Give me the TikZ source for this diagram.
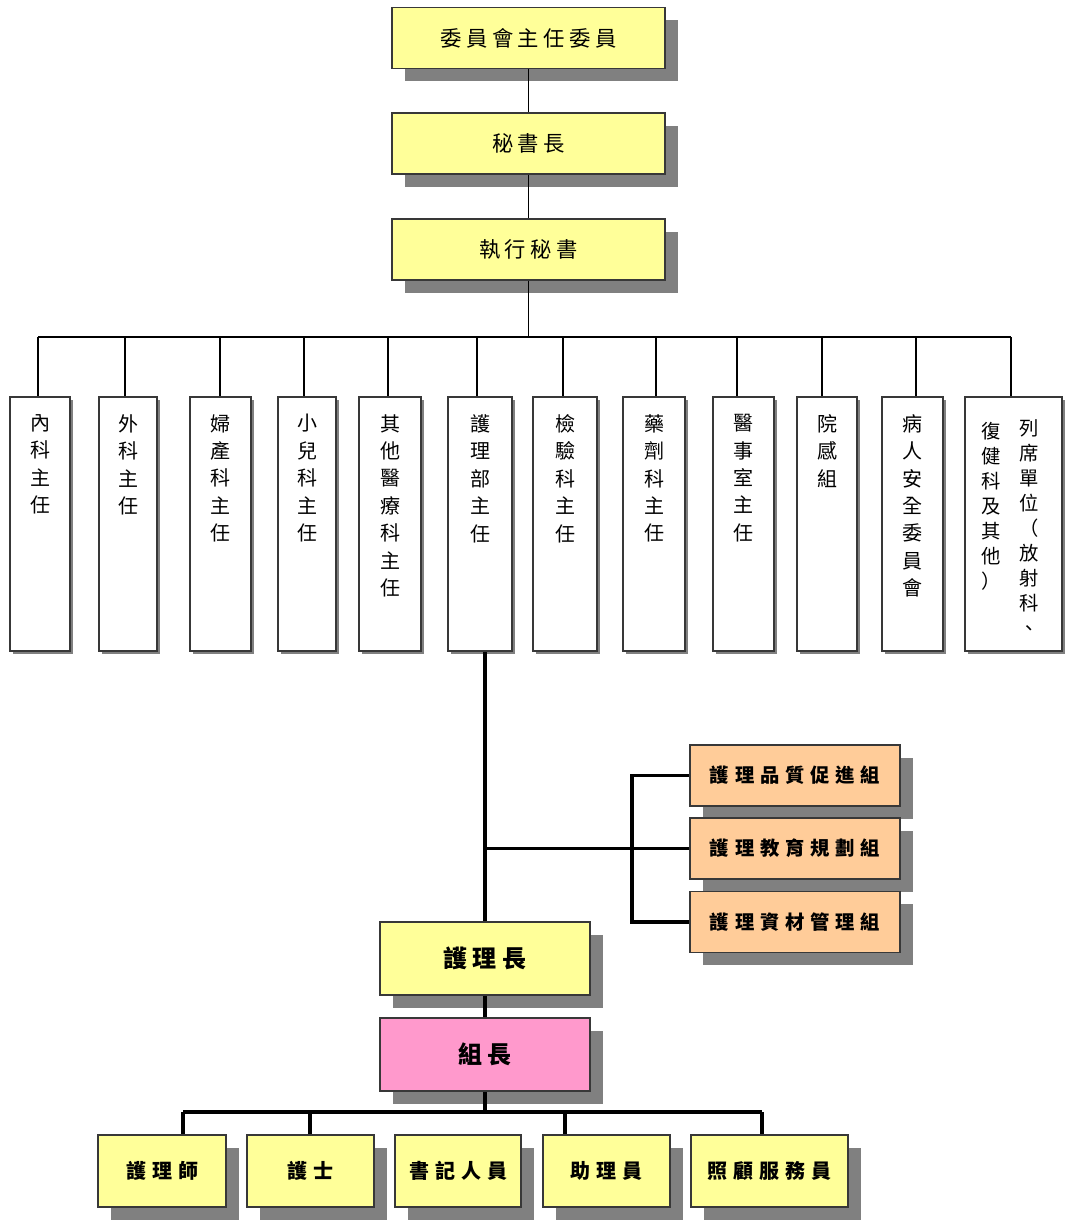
\documentclass[tikz,border=0pt]{standalone}
\usepackage{fontspec}
\usetikzlibrary{shadows}

% CJK faces: plain for the department columns, letter-spaced for the horizontal boxes
\newfontfamily\cjk{Noto Sans CJK TC}
\newfontfamily\cjktop{Noto Sans CJK TC}[LetterSpace=21]
\newfontfamily\cjkwide{Noto Sans CJK TC}[LetterSpace=30]
\newfontfamily\cjklead{Noto Sans CJK TC}[LetterSpace=24]

\definecolor{boxyellow}{HTML}{FFFF99}
\definecolor{boxorange}{HTML}{FFCC99}
\definecolor{boxpink}{HTML}{FF99CC}
\definecolor{shadowgray}{HTML}{808080}
\definecolor{edgegray}{HTML}{383838}

\tikzset{
  x=0.75pt, y=-0.75pt,
  sz/.style 2 args={minimum width=#1*0.75pt, minimum height=#2*0.75pt},
  card/.style={draw=edgegray, line width=1.2pt, inner sep=0pt},
  bigshadow/.style={drop shadow={shadow xshift=9.5pt, shadow yshift=-9.5pt, fill=shadowgray, opacity=1}},
  smallshadow/.style={drop shadow={shadow xshift=2.2pt, shadow yshift=-2.2pt, fill=shadowgray, opacity=1}},
  topbox/.style={card, bigshadow, fill=boxyellow, sz={273}{61}, font=\cjktop\fontsize{16}{19}\selectfont},
  deptbox/.style={card, smallshadow, fill=white, sz={61}{254}},
  depttext/.style={anchor=north, inner sep=0pt, align=center, font=\cjk\fontsize{15}{20.6}\selectfont},
  listtext/.style={anchor=north, inner sep=0pt, align=center, font=\cjk\fontsize{14.5}{18.75}\selectfont},
  groupbox/.style={card, bigshadow, fill=boxorange, sz={210}{61}, font=\cjkwide\bfseries\fontsize{14.5}{17}\selectfont},
  leadbox/.style={card, bigshadow, sz={210}{73}, font=\cjklead\bfseries\fontsize{18}{21}\selectfont},
  staffbox/.style={card, bigshadow, fill=boxyellow, minimum height=72*0.75pt, font=\cjkwide\bfseries\fontsize{15}{18}\selectfont},
  thinline/.style={line width=1.3pt, draw=black},
  thickline/.style={line width=2.6pt, draw=black},
}

\begin{document}
\begin{tikzpicture}
\fill[white] (0,0) rectangle (1065,1224);
\useasboundingbox (0,0) rectangle (1065,1224);

% committee chain
\node[topbox] (chair)   at (528.5,38)    {委員會主任委員};
\node[topbox] (secgen)  at (528.5,143.5) {秘書長};
\node[topbox] (execsec) at (528.5,249.5) {執行秘書};
\draw[thinline] (chair.south) -- (secgen.north);
\draw[thinline] (secgen.south) -- (execsec.north);

% department bus
\coordinate (busL) at (38,337);
\coordinate (busR) at (1011,337);
\draw[thinline] (busL) -- (busR);
\draw[thinline] (execsec.south) -- (execsec.south |- busL);

% department columns
\foreach \i/\cx/\w/\lx/\txt in {
  1/40/60/38/{內\\科\\主\\任},
  2/128/58/125/{外\\科\\主\\任},
  3/220.5/61/220/{婦\\產\\科\\主\\任},
  4/307/58/304/{小\\兒\\科\\主\\任},
  5/390/62/388/{其\\他\\醫\\療\\科\\主\\任},
  6/480/64/477/{護\\理\\部\\主\\任},
  7/565/64/563/{檢\\驗\\科\\主\\任},
  8/654/62/656/{藥\\劑\\科\\主\\任},
  9/743.5/61/737/{醫\\事\\室\\主\\任},
  10/827/60/822/{院\\感\\組},
  11/912.5/61/916/{病\\人\\安\\全\\委\\員\\會}}{
  \node[deptbox, minimum width=\w*0.75pt] (d\i) at (\cx,524) {};
  \node[depttext] (dt\i) at (\cx,414) {\txt};
  \coordinate (t\i) at (\lx,337);
  \draw[thinline] (t\i) -- (t\i |- d\i.north);
}
\node[deptbox, minimum width=97*0.75pt] (d12) at (1013.5,524) {};
\node[listtext] (dt12a) at (1029,419) {列\\席\\單\\位\\（\\放\\射\\科\\、};
\node[listtext] (dt12b) at (991,422) {復\\健\\科\\及\\其\\他\\）};
\coordinate (t12) at (1011,337);
\draw[thinline] (t12) -- (t12 |- d12.north);

% nursing department
\node[groupbox] (o1) at (795,775.5) {護理品質促進組};
\node[groupbox] (o2) at (795,848.5) {護理教育規劃組};
\node[groupbox] (o3) at (795,922)   {護理資材管理組};
\node[leadbox, fill=boxyellow] (head) at (485,958.5)  {護理長};
\node[leadbox, fill=boxpink]   (lead) at (485,1054.5) {組長};

\draw[thickline] (head.north) -- (head.north |- d6.south);
\draw[thickline] (o2.west) -- (o2.west -| head.north);
\draw[thickline] (o1.west) -- ++(-57,0) |- (o3.west);
\draw[thickline] (head.south) -- (lead.north);

% staff row
\node[staffbox, minimum width=128*0.75pt] (s1) at (162,1171)   {護理師};
\node[staffbox, minimum width=127*0.75pt] (s2) at (310.5,1171) {護士};
\node[staffbox, minimum width=126*0.75pt] (s3) at (458,1171)   {書記人員};
\node[staffbox, minimum width=127*0.75pt] (s4) at (606.5,1171) {助理員};
\node[staffbox, minimum width=157*0.75pt] (s5) at (769.5,1171) {照顧服務員};

\coordinate (sb1) at (183,1112);
\coordinate (sb2) at (310,1112);
\coordinate (sb4) at (565,1112);
\coordinate (sb5) at (762,1112);
\draw[thickline] (lead.south) -- (lead.south |- sb1);
\draw[thickline] (sb1) -- (sb5);
\draw[thickline] (sb1) -- (sb1 |- s1.north);
\draw[thickline] (sb2) -- (sb2 |- s2.north);
\draw[thickline] (sb4) -- (sb4 |- s4.north);
\draw[thickline] (sb5) -- (sb5 |- s5.north);
\end{tikzpicture}
\end{document}
